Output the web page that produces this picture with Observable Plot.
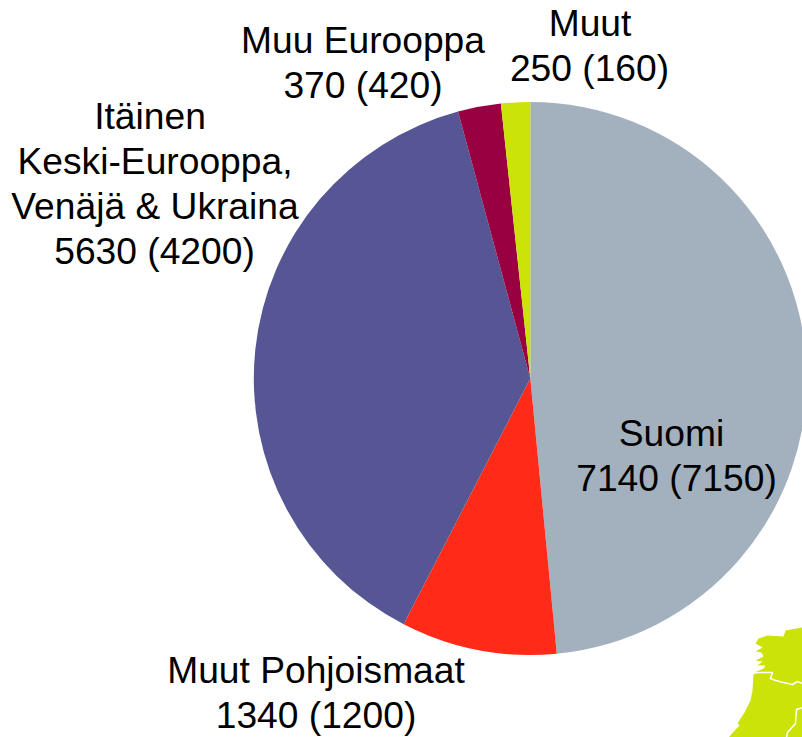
<!DOCTYPE html>
<html><head><meta charset="utf-8">
<script src="https://cdn.jsdelivr.net/npm/d3@7"></script>
<script src="https://cdn.jsdelivr.net/npm/@observablehq/plot@0.6"></script>
<style>html,body{margin:0;padding:0;background:#fff;overflow:hidden}svg{display:block}</style>
</head><body><div id="chart"></div>
<script>
// Data
const categories = ["Suomi", "Muut Pohjoismaat", "Itäinen\nKeski-Eurooppa,\nVenäjä & Ukraina", "Muu Eurooppa", "Muut"];
const values = [7140, 1340, 5630, 370, 250];
const previous = [7150, 1200, 4200, 420, 160];

// Layout and style, separate from the data
const colors = ["#A3B1BE", "#FF2A17", "#565695", "#990041", "#CCE30A"];
// x of each label line, first baseline-centre y of each label
const lineX = [[671, 676], [315.5, 315.5], [149.5, 154.5, 154.5, 154], [362.5, 362.5], [589.5, 589]];
const firstY = [434, 671, 117, 41, 24];
const lineStep = 45;
const center = [530.3, 378.5];
const radius = 276.5;
const mapOutline = [[728,737],[737,727],[739,725],[737,723],[744,712],[750,700],[752,690],[753,673],[756,671],[763,668],[765,665],[757,665],[762,661],[755,660],[763,656],[761,652],[755,651],[762,647],[755,643],[758,638],[767,635],[783,636],[785,630],[802,627],[802,737]];
const borderNorth = [[753,673],[757,672],[772,672],[770,678],[775,680],[783,682],[792,684],[797,681],[802,683]];
const borderEast = [[802,707],[796,709],[795,723],[787,732],[786,737]];

const rows = categories.map((c, i) => ({value: values[i], color: colors[i]}));
const labelLines = categories.flatMap((c, i) =>
  [...c.split("\n"), `${values[i]} (${previous[i]})`].map((text, j) => ({
    text, x: lineX[i][j], y: firstY[i] + j * lineStep
  })));

function pieMark(index, {x, y}) {
  const arcs = d3.pie().sort(null).value(d => d.value)(rows);
  const path = d3.arc().innerRadius(0).outerRadius(x(center[0] + radius) - x(center[0]));
  const g = d3.create("svg:g").attr("transform", `translate(${x(center[0])},${y(center[1])})`);
  g.selectAll("path").data(arcs).join("path")
    .attr("d", path)
    .attr("fill", d => d.data.color);
  return g.node();
}

const chart = Plot.plot({
  width: 802, height: 737,
  margin: 0,
  x: {domain: [0, 802], range: [0, 802], axis: null},
  y: {domain: [0, 737], range: [0, 737], axis: null},
  style: {background: "#fff"},
  marks: [
    Plot.line(mapOutline, {x: d => d[0], y: d => d[1], fill: "#CCE30A", stroke: "none"}),
    Plot.line(borderNorth, {x: d => d[0], y: d => d[1], stroke: "#fff", strokeWidth: 1.5}),
    Plot.line(borderEast, {x: d => d[0], y: d => d[1], stroke: "#fff", strokeWidth: 1.5}),
    pieMark,
    Plot.text(labelLines, {x: "x", y: "y", text: "text", fontSize: 37.2,
      fontFamily: "Liberation Sans, Arial, sans-serif", fill: "#000", textAnchor: "middle"})
  ]
});
document.getElementById("chart").append(chart);
</script></body></html>
